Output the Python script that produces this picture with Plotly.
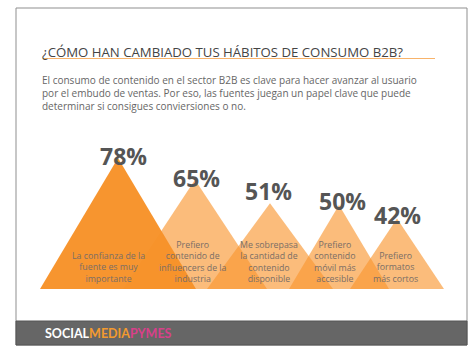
import plotly.graph_objects as go

# ---- data ----
values = [78, 65, 51, 50, 42]
pct_labels = ["78%", "65%", "51%", "50%", "42%"]
categories = [
    "La confianza de la<br>fuente es muy<br>importante",
    "Prefiero<br>contenido de<br>influencers de la<br>industria",
    "Me sobrepasa<br>la cantidad de<br>contenido<br>disponible",
    "Prefiero<br>contenido<br>móvil más<br>accesible",
    "Prefiero<br>formatos<br>más cortos",
]
title_text = "¿CÓMO HAN CAMBIADO TUS HÁBITOS DE CONSUMO B2B?"
intro_text = ("El consumo de contenido en el sector B2B es clave para hacer avanzar al usuario<br>"
              "por el embudo de ventas. Por eso, las fuentes juegan un papel clave que puede<br>"
              "determinar si consigues conviersiones o no.")

# ---- layout constants (pixels) ----
W, H = 474, 355
apex_x = [118, 195, 270, 339, 397]
half_w = [78, 72, 63, 50, 47]
pct_x = [123, 196, 268, 342, 397]
pct_shift = [2, 2, 12, 4, 3]
lab_x = [108, 193, 269, 335, 395]

def px(x):
    return x / W

def py(y):
    return 1 - y / H

base_px = 289
px_per_pct = 1.68
y_dom = [py(base_px), py(base_px - 100 * px_per_pct)]

fig = go.Figure()

fills = ["rgba(247,146,40,0.97)"] + ["rgba(249,150,48,0.64)"] * 4
for i in [4, 3, 2, 1, 0]:
    ax, hw, v = apex_x[i], half_w[i], values[i]
    fig.add_trace(go.Scatter(
        x=[ax - hw, ax, ax + hw, ax - hw],
        y=[0, v, 0, 0],
        mode="lines", fill="toself", fillcolor=fills[i],
        line=dict(width=0), hoverinfo="skip", showlegend=False,
    ))

for i, v in enumerate(values):
    fig.add_annotation(x=pct_x[i], y=v, xref="x", yref="y", text=f"<b>{pct_labels[i]}</b>",
                       showarrow=False, xanchor="center", yanchor="middle", yshift=pct_shift[i],
                       font=dict(family="Open Sans", size=23, color="#555555"))
    fig.add_annotation(x=lab_x[i], y=1.2, xref="x", yref="y", text=categories[i],
                       showarrow=False, xanchor="center", yanchor="bottom",
                       font=dict(family="Open Sans", size=8.8, color="#7a6e66"))

# card border
fig.add_shape(type="rect", xref="paper", yref="paper", x0=px(16), x1=px(467), y0=py(345), y1=py(8),
              line=dict(color="#8f8f8f", width=1), fillcolor="rgba(0,0,0,0)")
# bottom band
fig.add_shape(type="rect", xref="paper", yref="paper", x0=px(16), x1=px(467), y0=py(345), y1=py(321),
              line=dict(color="#555555", width=1), fillcolor="#666666")
# title underline
fig.add_shape(type="line", xref="paper", yref="paper", x0=px(43), x1=px(435), y0=py(58.5), y1=py(58.5),
              line=dict(color="#f8b36a", width=1.2))

fig.add_annotation(x=px(40), y=py(52), xref="paper", yref="paper", text=title_text, showarrow=False,
                   xanchor="left", yanchor="middle",
                   font=dict(family="Open Sans", size=13.2, color="#444444"))
fig.add_annotation(x=px(40), y=py(71), xref="paper", yref="paper", text=intro_text, showarrow=False,
                   xanchor="left", yanchor="top", align="left",
                   font=dict(family="Open Sans", size=10, color="#666666"))
fig.add_annotation(x=px(43), y=py(333), xref="paper", yref="paper",
                   text=("<b><span style='color:#ffffff'>SOCIAL</span>"
                         "<span style='color:#f39a2e'>MEDIA</span>"
                         "<span style='color:#d8408a'>PYMES</span></b>"),
                   showarrow=False, xanchor="left", yanchor="middle",
                   font=dict(family="Lato", size=12.5, color="#ffffff"))

fig.update_layout(
    width=W, height=H, margin=dict(l=0, r=0, t=0, b=0),
    paper_bgcolor="white", plot_bgcolor="rgba(0,0,0,0)",
    xaxis=dict(range=[0, W], domain=[0, 1], visible=False, fixedrange=True),
    yaxis=dict(range=[0, 100], domain=y_dom, visible=False, fixedrange=True),
    showlegend=False,
)

fig.write_html("out.html", post_script="document.body.style.margin='0';",
               config={"displayModeBar": False})
